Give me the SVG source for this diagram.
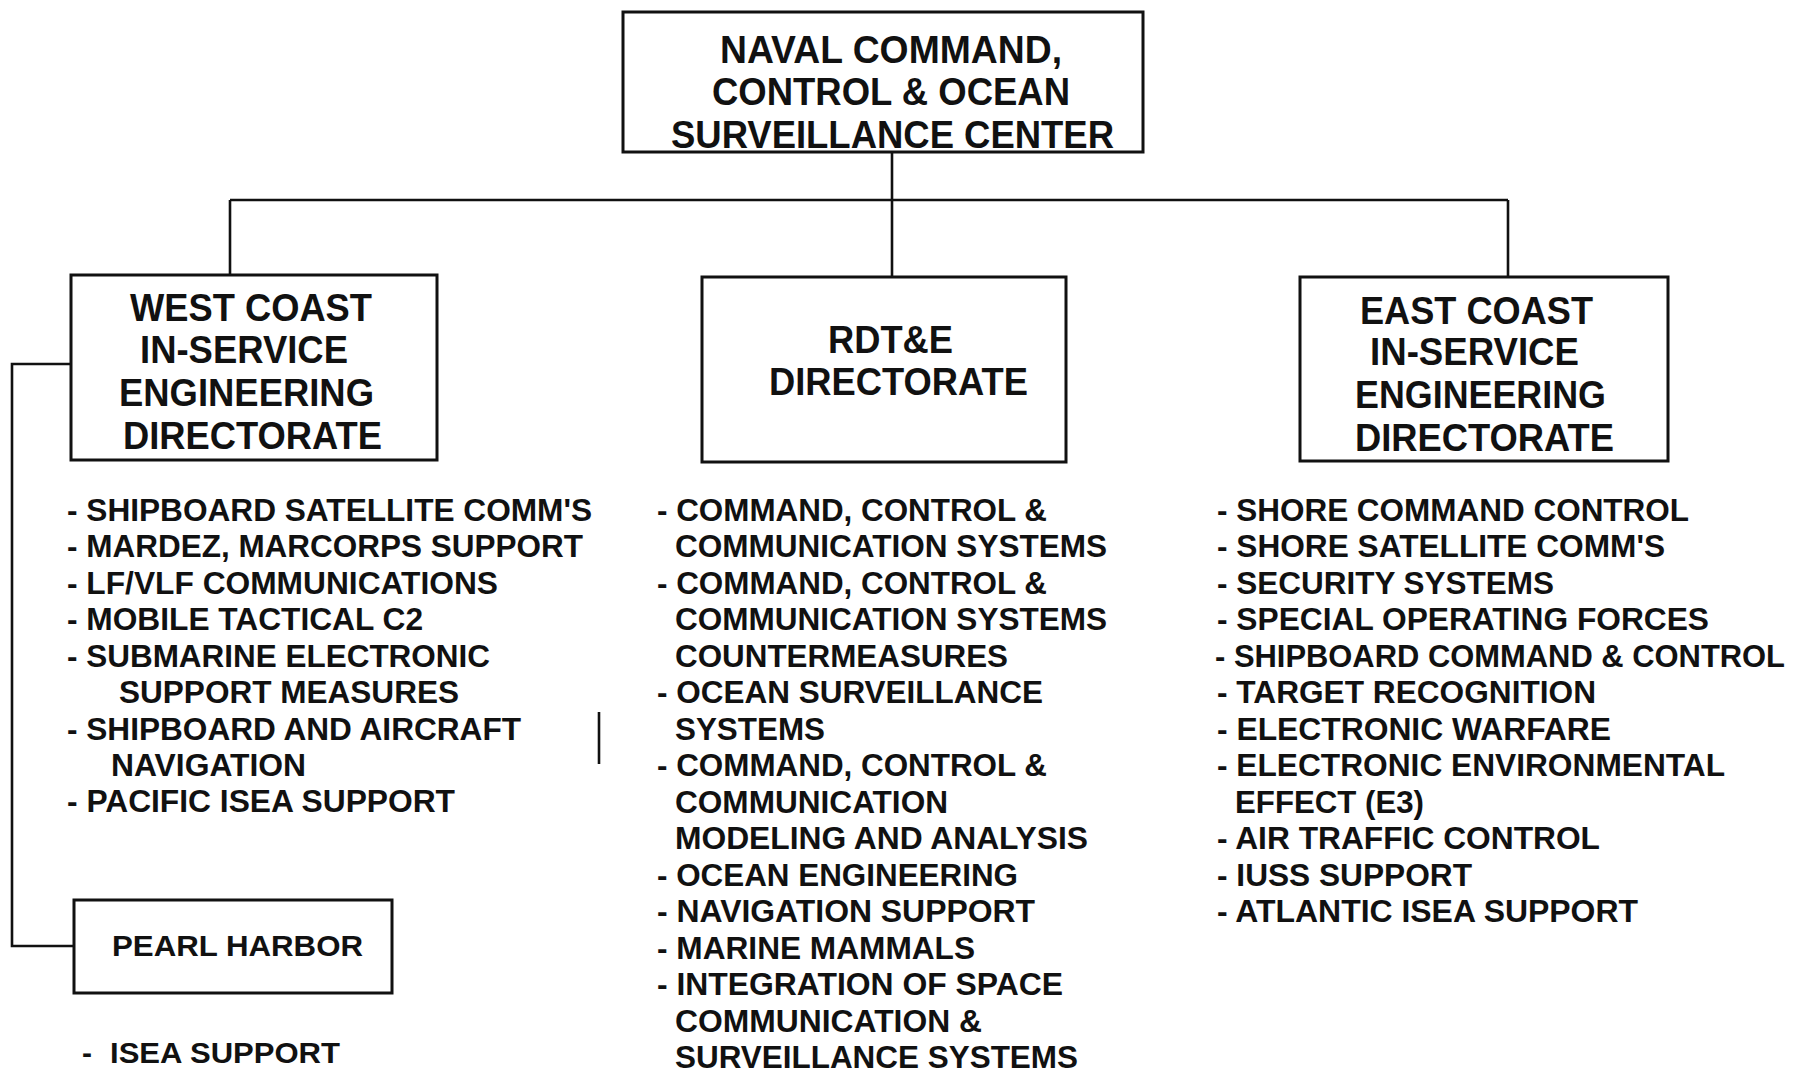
<svg xmlns="http://www.w3.org/2000/svg" width="1802" height="1074" viewBox="0 0 1802 1074">
<style>
.box{fill:#fff;stroke:#111;stroke-width:3}
.con{fill:none;stroke:#111;stroke-width:2.6}
text{font-family:"Liberation Sans",Arial,sans-serif;font-weight:bold;fill:#111}
.h{font-size:38px}
.l{font-size:32px}
.p{font-size:30px}
</style>
<rect width="1802" height="1074" fill="#fff"/>
<g id="connectors">
<path class="con" d="M892 152 V277"/>
<path class="con" d="M230 200 H1508"/>
<path class="con" d="M230 200 V275"/>
<path class="con" d="M1508 200 V277"/>
<path class="con" d="M71 364 H12 V946 H74"/>
<path class="con" d="M599 712 V764"/>
</g>
<g id="center">
<rect class="box" x="623" y="12" width="520" height="140"/>
<text class="h" x="720" y="63" textLength="342" lengthAdjust="spacingAndGlyphs">NAVAL COMMAND,</text>
<text class="h" x="712" y="105" textLength="358" lengthAdjust="spacingAndGlyphs">CONTROL &amp; OCEAN</text>
<text class="h" x="671" y="148" textLength="443" lengthAdjust="spacingAndGlyphs">SURVEILLANCE CENTER</text>
</g>
<g id="west">
<rect class="box" x="71" y="275" width="366" height="185"/>
<text class="h" x="130" y="321" textLength="242" lengthAdjust="spacingAndGlyphs">WEST COAST</text>
<text class="h" x="140" y="363" textLength="208" lengthAdjust="spacingAndGlyphs">IN-SERVICE</text>
<text class="h" x="119" y="406" textLength="255" lengthAdjust="spacingAndGlyphs">ENGINEERING</text>
<text class="h" x="123" y="449" textLength="259" lengthAdjust="spacingAndGlyphs">DIRECTORATE</text>
</g>
<g id="rdte">
<rect class="box" x="702" y="277" width="364" height="185"/>
<text class="h" x="828" y="353" textLength="125" lengthAdjust="spacingAndGlyphs">RDT&amp;E</text>
<text class="h" x="769" y="395" textLength="259" lengthAdjust="spacingAndGlyphs">DIRECTORATE</text>
</g>
<g id="east">
<rect class="box" x="1300" y="277" width="368" height="184"/>
<text class="h" x="1360" y="324" textLength="233" lengthAdjust="spacingAndGlyphs">EAST COAST</text>
<text class="h" x="1370" y="365" textLength="209" lengthAdjust="spacingAndGlyphs">IN-SERVICE</text>
<text class="h" x="1355" y="408" textLength="251" lengthAdjust="spacingAndGlyphs">ENGINEERING</text>
<text class="h" x="1355" y="451" textLength="259" lengthAdjust="spacingAndGlyphs">DIRECTORATE</text>
</g>
<g id="pearl">
<rect class="box" x="74" y="900" width="318" height="93"/>
<text class="p" x="112" y="956" textLength="251" lengthAdjust="spacingAndGlyphs">PEARL HARBOR</text>
</g>
<g id="west-list">
<text class="l" x="67" y="521" textLength="525" lengthAdjust="spacingAndGlyphs">- SHIPBOARD SATELLITE COMM'S</text>
<text class="l" x="67" y="557" textLength="516" lengthAdjust="spacingAndGlyphs">- MARDEZ, MARCORPS SUPPORT</text>
<text class="l" x="67" y="594" textLength="431" lengthAdjust="spacingAndGlyphs">- LF/VLF COMMUNICATIONS</text>
<text class="l" x="67" y="630" textLength="356" lengthAdjust="spacingAndGlyphs">- MOBILE TACTICAL C2</text>
<text class="l" x="67" y="667" textLength="423" lengthAdjust="spacingAndGlyphs">- SUBMARINE ELECTRONIC</text>
<text class="l" x="119" y="703" textLength="340" lengthAdjust="spacingAndGlyphs">SUPPORT MEASURES</text>
<text class="l" x="67" y="740" textLength="454" lengthAdjust="spacingAndGlyphs">- SHIPBOARD AND AIRCRAFT</text>
<text class="l" x="111" y="776" textLength="195" lengthAdjust="spacingAndGlyphs">NAVIGATION</text>
<text class="l" x="67" y="812" textLength="388" lengthAdjust="spacingAndGlyphs">- PACIFIC ISEA SUPPORT</text>
</g>
<g id="pearl-list">
<text class="p" y="1063"><tspan x="82">-</tspan><tspan x="110" textLength="230" lengthAdjust="spacingAndGlyphs">ISEA SUPPORT</tspan></text>
</g>
<g id="rdte-list">
<text class="l" x="657" y="521" textLength="390" lengthAdjust="spacingAndGlyphs">- COMMAND, CONTROL &amp;</text>
<text class="l" x="675" y="557" textLength="432" lengthAdjust="spacingAndGlyphs">COMMUNICATION SYSTEMS</text>
<text class="l" x="657" y="594" textLength="390" lengthAdjust="spacingAndGlyphs">- COMMAND, CONTROL &amp;</text>
<text class="l" x="675" y="630" textLength="432" lengthAdjust="spacingAndGlyphs">COMMUNICATION SYSTEMS</text>
<text class="l" x="675" y="667" textLength="333" lengthAdjust="spacingAndGlyphs">COUNTERMEASURES</text>
<text class="l" x="657" y="703" textLength="386" lengthAdjust="spacingAndGlyphs">- OCEAN SURVEILLANCE</text>
<text class="l" x="675" y="740" textLength="150" lengthAdjust="spacingAndGlyphs">SYSTEMS</text>
<text class="l" x="657" y="776" textLength="390" lengthAdjust="spacingAndGlyphs">- COMMAND, CONTROL &amp;</text>
<text class="l" x="675" y="813" textLength="273" lengthAdjust="spacingAndGlyphs">COMMUNICATION</text>
<text class="l" x="675" y="849" textLength="413" lengthAdjust="spacingAndGlyphs">MODELING AND ANALYSIS</text>
<text class="l" x="657" y="886" textLength="361" lengthAdjust="spacingAndGlyphs">- OCEAN ENGINEERING</text>
<text class="l" x="657" y="922" textLength="378" lengthAdjust="spacingAndGlyphs">- NAVIGATION SUPPORT</text>
<text class="l" x="657" y="959" textLength="318" lengthAdjust="spacingAndGlyphs">- MARINE MAMMALS</text>
<text class="l" x="657" y="995" textLength="406" lengthAdjust="spacingAndGlyphs">- INTEGRATION OF SPACE</text>
<text class="l" x="675" y="1032" textLength="307" lengthAdjust="spacingAndGlyphs">COMMUNICATION &amp;</text>
<text class="l" x="675" y="1068" textLength="403" lengthAdjust="spacingAndGlyphs">SURVEILLANCE SYSTEMS</text>
</g>
<g id="east-list">
<text class="l" x="1217" y="521" textLength="472" lengthAdjust="spacingAndGlyphs">- SHORE COMMAND CONTROL</text>
<text class="l" x="1217" y="557" textLength="448" lengthAdjust="spacingAndGlyphs">- SHORE SATELLITE COMM'S</text>
<text class="l" x="1217" y="594" textLength="337" lengthAdjust="spacingAndGlyphs">- SECURITY SYSTEMS</text>
<text class="l" x="1217" y="630" textLength="492" lengthAdjust="spacingAndGlyphs">- SPECIAL OPERATING FORCES</text>
<text class="l" x="1215" y="667" textLength="570" lengthAdjust="spacingAndGlyphs">- SHIPBOARD COMMAND &amp; CONTROL</text>
<text class="l" x="1217" y="703" textLength="379" lengthAdjust="spacingAndGlyphs">- TARGET RECOGNITION</text>
<text class="l" x="1217" y="740" textLength="394" lengthAdjust="spacingAndGlyphs">- ELECTRONIC WARFARE</text>
<text class="l" x="1217" y="776" textLength="508" lengthAdjust="spacingAndGlyphs">- ELECTRONIC ENVIRONMENTAL</text>
<text class="l" x="1235" y="813" textLength="189" lengthAdjust="spacingAndGlyphs">EFFECT (E3)</text>
<text class="l" x="1217" y="849" textLength="383" lengthAdjust="spacingAndGlyphs">- AIR TRAFFIC CONTROL</text>
<text class="l" x="1217" y="886" textLength="255" lengthAdjust="spacingAndGlyphs">- IUSS SUPPORT</text>
<text class="l" x="1217" y="922" textLength="421" lengthAdjust="spacingAndGlyphs">- ATLANTIC ISEA SUPPORT</text>
</g>
</svg>
